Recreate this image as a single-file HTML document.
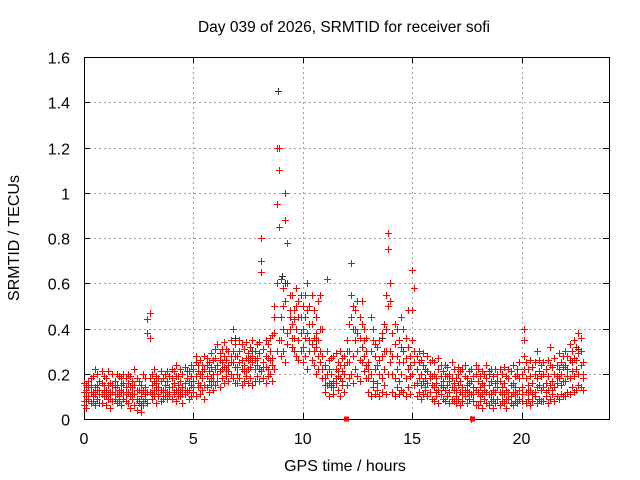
<!DOCTYPE html>
<html><head><meta charset="utf-8"><style>
html,body{margin:0;padding:0;background:#fff;}
svg{display:block;font-family:"Liberation Sans",sans-serif;}
</style></head><body>
<svg id="chart" width="640" height="480" viewBox="0 0 640 480">
<rect width="640" height="480" fill="#fff"/>
<text x="344" y="32" font-size="15.5" text-anchor="middle" fill="#000">Day 039 of 2026, SRMTID for receiver sofi</text>
<g id="grid"></g>
<g id="axes"></g>
<g id="marks" shape-rendering="crispEdges"></g>
<text x="345" y="471" font-size="16" text-anchor="middle">GPS time / hours</text>
<text x="0" y="0" font-size="16" text-anchor="middle" transform="translate(19,238) rotate(-90)">SRMTID / TECUs</text>
</svg>
<script>
const xTicks=[0,5,10,15,20];
const yTicks=[0,0.2,0.4,0.6,0.8,1,1.2,1.4,1.6];
const yTickLabels=["0","0.2","0.4","0.6","0.8","1","1.2","1.4","1.6"];
const t=[0,.1,.2,.3,.4,.5,.6,.7,.8,.9,1,1.1,1.2,1.3,1.4,1.5,1.6,1.7,1.8,1.9,2,2.1,2.2,2.3,2.4,2.5,2.6,2.7,2.8,2.9,3,3.1,3.2,3.3,3.4,3.5,3.6,3.7,3.8,3.9,4,4.1,4.2,4.3,4.4,4.5,4.6,4.7,4.8,4.9,5,5.1,5.2,5.3,5.4,5.5,5.6,5.7,5.8,5.9,6,6.1,6.2,6.3,6.4,6.5,6.6,6.7,6.8,6.9,7,7.1,7.2,7.3,7.4,7.5,7.6,7.7,7.8,7.9,8,8.1,8.2,8.3,8.4,8.5,8.6,8.7,8.8,8.9,9,9.1,9.2,9.3,9.4,9.5,9.6,9.7,9.8,9.9,10,10.1,10.2,10.3,10.4,10.5,10.6,10.7,10.8,10.9,11,11.1,11.2,11.3,11.4,11.5,11.6,11.7,11.8,11.9,12,12.1,12.2,12.3,12.4,12.5,12.6,12.7,12.8,12.9,13,13.1,13.2,13.3,13.4,13.5,13.6,13.7,13.8,13.9,14,14.1,14.2,14.3,14.4,14.5,14.6,14.7,14.8,14.9,15,15.1,15.2,15.3,15.4,15.5,15.6,15.7,15.8,15.9,16,16.1,16.2,16.3,16.4,16.5,16.6,16.7,16.8,16.9,17,17.1,17.2,17.3,17.4,17.5,17.6,17.7,17.8,17.9,18,18.1,18.2,18.3,18.4,18.5,18.6,18.7,18.8,18.9,19,19.1,19.2,19.3,19.4,19.5,19.6,19.7,19.8,19.9,20,20.1,20.2,20.3,20.4,20.5,20.6,20.7,20.8,20.9,21,21.1,21.2,21.3,21.4,21.5,21.6,21.7,21.8,21.9,22,22.1,22.2,22.3,22.4,22.5,22.6,22.7,22.8];
const va=[.08,.05,.10,.07,.12,.06,.09,.11,.07,.10, .06,.09,.05,.08,.11,.07,.10,.06,.09,.08, .07,.05,.09,.06,.04,.08,.03,.06,.09,.07, .47,.09,.10,.07,.11,.08,.12,.10,.09,.11, .09,.11,.08,.12,.10,.07,.11,.13,.09,.10, .12,.10,.14,.11,.13,.09,.14,.12,.15,.13, .15,.17,.14,.18,.16,.19,.17,.20,.18,.16, .16,.18,.15,.17,.19,.16,.18,.15,.17,.19, .17,.80,.18,.16,.19,.20,.17,.22,.30,.35, .28,.30,.25,.33,.40,.32,.30,.28,.26,.30, .25,.28,.22,.30,.26,.24,.20,.22,.25,.18, .12,.15,.10,.14,.11,.16,.13,.10,.15,.12, .15,.18,.20,.16,.22,.19,.17,.25,.21,.18, .12,.10,.14,.11,.13,.10,.12,.15,.11,.20, .60,.12,.10,.14,.11,.13,.12,.10,.14,.11, .66,.58,.10,.12,.09,.11,.13,.10,.12,.09, .08,.10,.07,.11,.09,.08,.10,.07,.09,.08, .07,.09,.06,.08,.10,.07,.09,.00,.08,.06, .06,.08,.05,.09,.07,.06,.08,.05,.07,.09, .06,.08,.07,.05,.09,.07,.06,.08,.07,.09, .08,.40,.07,.09,.06,.08,.10,.07,.09,.08, .08,.10,.07,.09,.11,.08,.10,.09,.11,.10, .10,.12,.11,.14,.12,.13,.15,.14,.13];
const vb=[.12,.15,.09,.18,.10,.14,.20,.13,.16,.12, .13,.11,.16,.12,.09,.15,.13,.18,.12,.14, .12,.10,.14,.11,.09,.13,.10,.08,.14,.12, .36,.15,.13,.16,.14,.17,.13,.15,.12,.14, .14,.16,.13,.15,.17,.14,.16,.12,.17,.15, .17,.19,.16,.20,.18,.15,.19,.21,.18,.20, .22,.24,.21,.25,.23,.26,.24,.28,.25,.23, .23,.25,.22,.24,.21,.26,.23,.25,.22,.24, .22,.70,.25,.23,.27,.26,.24,.38,.95,1.20, .45,.50,1.00,.78,.45,.55,.48,.50,.52,.55, .40,.45,.38,.50,.42,.36,.32,.35,.30,.28, .18,.62,.16,.20,.17,.22,.19,.18,.21,.24, .25,.30,.69,.28,.35,.30,.26,.32,.28,.24, .18,.20,.17,.22,.16,.20,.18,.22,.30,.50, .52,.20,.18,.22,.17,.20,.25,.18,.22,.19, .48,.25,.16,.18,.15,.17,.14,.16,.18,.15, .14,.16,.13,.15,.17,.13,.15,.12,.14,.16, .13,.15,.12,.14,.13,.15,.12,.11,.14,.13, .12,.14,.11,.13,.12,.15,.11,.13,.12,.14, .12,.14,.11,.13,.12,.15,.12,.14,.11,.13, .14,.35,.12,.15,.13,.16,.12,.14,.15,.13, .14,.16,.13,.15,.17,.14,.16,.18,.15,.17, .17,.19,.18,.21,.19,.22,.20,.24,.18];
const vc=[.16,.10,.14,.12,.19,.22,.15,.17,.11,.19, .18,.15,.12,.20,.14,.11,.19,.15,.20,.11, .16,.19,.11,.15,.18,.07,.15,.13,.18,.44, .12,.20,.17,.19,.10,.13,.18,.20,.17,.19, .18,.21,.19,.10,.13,.20,.23,.18,.21,.24, .22,.25,.21,.15,.24,.22,.27,.17,.23,.26, .27,.20,.29,.31,.28,.22,.30,.25,.40,.28, .28,.30,.26,.31,.27,.29,.32,.28,.30,.27, .29,.65,.31,.28,.33,.30,.37,.45,1.20,1.10, .62,.40,.88,.60,.55,.42,.36,.40,.45,.38, .50,.55,.60,.35,.33,.48,.45,.52,.55,.40, .24,.20,.26,.15,.28,.18,.25,.30,.17,.28, .35,.42,.55,.40,.48,.38,.45,.52,.35,.30, .25,.30,.35,.28,.32,.26,.38,.30,.40,.82, .30,.38,.42,.28,.35,.45,.30,.36,.48,.28, .20,.30,.22,.25,.20,.24,.22,.21,.25,.19, .20,.18,.22,.19,.21,.24,.19,.20,.18,.22, .18,.20,.17,.22,.19,.18,.21,.17,.19,.20, .17,.19,.16,.20,.18,.21,.17,.19,.16,.20, .17,.20,.16,.19,.18,.21,.16,.19,.20,.18, .20,.28,.18,.22,.19,.23,.20,.30,.21,.19, .20,.22,.19,.32,.23,.20,.24,.22,.25,.23, .24,.28,.26,.30,.27,.32,.29,.36,.25];
const vd=[.06,.13,.17,.15,.08,.11,.13,.07,.21,.15, .10,.21,.09,.15,.17,.20,.08,.12,.16,.18, .20,.14,.17,.22,.13,.17,.12,.20,.11,.38, .18,.11,.22,.13,.18,.21,.09,.12,.21,.10, .22,.12,.24,.19,.22,.11,.13,.21,.13,.19, .14,.28,.24,.26,.21,.28,.24,.25,.29,.17, .31,.33,.26,.22,.34,.31,.21,.35,.30,.33, .20,.35,.33,.21,.34,.22,.27,.35,.26,.33, .34,.21,.23,.35,.22,.36,.27,.50,.60,.85, .35,.58,.52,.38,.48,.36,.44,.58,.35,.45, .32,.36,.48,.42,.55,.30,.38,.28,.40,.22, .15,.30,.22,.27,.14,.29,.21,.24,.27,.20, .30,.25,.45,.50,.40,.52,.36,.42,.40,.36, .22,.45,.40,.33,.24,.35,.28,.42,.55,.75, .25,.28,.33,.40,.25,.32,.40,.27,.32,.24, .35,.15,.28,.30,.26,.29,.18,.28,.20,.26, .25,.12,.27,.24,.14,.19,.23,.17,.25,.13, .10,.23,.21,.11,.24,.12,.16,.22,.11,.24, .22,.10,.21,.15,.24,.11,.22,.09,.22,.17, .22,.11,.23,.09,.22,.10,.24,.11,.22,.25, .11,.22,.25,.12,.26,.11,.25,.18,.26,.24, .25,.12,.26,.24,.13,.27,.19,.29,.20,.28, .30,.22,.33,.25,.35,.26,.38,.30,.20];
const blackT=[0.1,2.6,7.7,8.85,9.05,9.2,10.6,12.5,13.6,18.5,22.6,6.9];
const blackV=[0.08,0.06,0.30,1.45,0.63,0.60,0.35,0.38,0.36,0.20,0.31,0.36];
const squareT=[12,17.75];
const squareV=[0,0];

const L=84,R=609,T=57,B=419;
const xS=v=>L+v/24*(R-L);
const yS=v=>B-v/1.6*(B-T);
const NS="http://www.w3.org/2000/svg";
function mk(tag,attrs,parent){const e=document.createElementNS(NS,tag);for(const k in attrs)e.setAttribute(k,attrs[k]);parent.appendChild(e);return e;}
const grid=document.getElementById('grid'),axes=document.getElementById('axes'),marks=document.getElementById('marks');
xTicks.forEach(v=>{const x=Math.round(xS(v))+0.5;
  if(v>0){const g=mk('line',{x1:x,x2:x,y1:T,y2:B,stroke:'#a0a0a0','stroke-dasharray':'2,3'},grid);
  
  }
  mk('line',{x1:x,x2:x,y1:B,y2:B-6,stroke:'#000'},axes);
  mk('line',{x1:x,x2:x,y1:T,y2:T+6,stroke:'#000'},axes);
  const tx=mk('text',{x:xS(v),y:B+25,'font-size':16,'text-anchor':'middle'},axes);tx.textContent=v;
  
  
});
yTicks.forEach((v,i)=>{const y=Math.round(yS(v))+0.5;
  if(v>0&&v<1.6){const g=mk('line',{x1:L,x2:R,y1:y,y2:y,stroke:'#a0a0a0','stroke-dasharray':'2,3'},grid);
  
  }
  mk('line',{x1:L,x2:L+6,y1:y,y2:y,stroke:'#000'},axes);
  mk('line',{x1:R,x2:R-6,y1:y,y2:y,stroke:'#000'},axes);
  const tx=mk('text',{x:70,y:y+6,'font-size':16,'text-anchor':'end'},axes);tx.textContent=yTickLabels[i];
  
  
});
const frame=mk('rect',{x:L+0.5,y:T+0.5,width:R-L,height:B-T,fill:'none',stroke:'#000'},axes);


function crosses(ts,vs,color,name){let d='';for(let i=0;i<ts.length;i++){const x=Math.round(xS(ts[i])),y=Math.round(yS(vs[i]));d+=`M${x-3} ${y}h7v1h-7zM${x} ${y-3}h1v7h-1z`;}
  const p=mk('path',{d:d,fill:color},marks);
  
  }
crosses(blackT,blackV,'#303030','series-all-points');
crosses(t,va,'#ff0000','series-red-a');
crosses(t,vb,'#ff0000','series-red-b');
crosses(t,vc,'#ff0000','series-red-c');
crosses(t,vd,'#ff0000','series-red-d');
squareT.forEach((v,i)=>{const s=mk('rect',{x:xS(v)-2.5,y:yS(squareV[i])-2.5,width:5,height:5,fill:'#ff0000'},marks);
  
  });
</script>
</body></html>
